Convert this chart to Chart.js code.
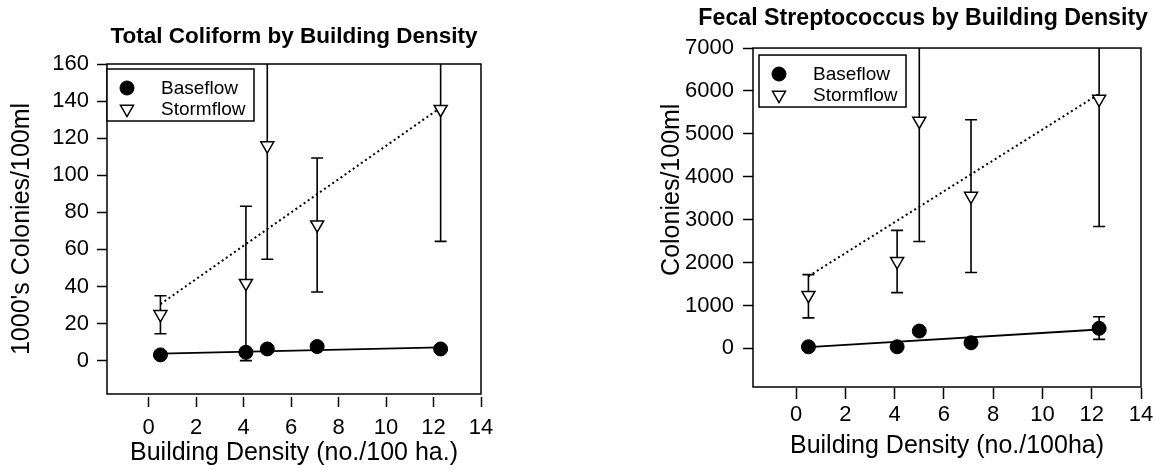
<!DOCTYPE html>
<html>
<head>
<meta charset="utf-8">
<script src="https://cdn.jsdelivr.net/npm/chart.js"></script>
<style>
  html, body { margin: 0; padding: 0; background: #fff; overflow: hidden; }
  body { width: 1155px; height: 470px; position: relative; }
  .panel { position: absolute; top: 0; height: 470px; }
  #left { left: 0; width: 560px; }
  #right { left: 600px; width: 565px; }
</style>
</head>
<body>
<div class="panel" id="left"><canvas id="tcChart"></canvas></div>
<div class="panel" id="right"><canvas id="fsChart"></canvas></div>
<script>
// x positions shared by both panels (buildings per 100 ha)
const density = [0.5, 4.1, 5.0, 7.1, 12.3];
const fitX = [0.5, 12.3];
const xTicks = [0, 2, 4, 6, 8, 10, 12, 14];

// Total coliform (1000's colonies/100ml)
const tcBase = [3.1, 4.5, 6.3, 7.6, 6.3];
const tcStorm = [25.0, 41.8, 116, 73.3, 135.6];
const tcStormLow = [14.5, 0, 54.7, 37, 64.3];
const tcStormHigh = [35, 83.3, 175, 109.3, 190];
const tcBaseFit = [3.8, 7.2];
const tcStormFit = [30.5, 136.5];
const tcYTicks = [0, 20, 40, 60, 80, 100, 120, 140, 160];

// Fecal streptococcus (colonies/100ml)
const fsBase = [37, 37, 404, 131, 467];
const fsBaseLow = [null, null, null, null, 210];
const fsBaseHigh = [null, null, null, null, 737];
const fsStorm = [1240, 2030, 5300, 3550, 5810];
const fsStormLow = [710, 1300, 2490, 1770, 2840];
const fsStormHigh = [1720, 2750, 8000, 5330, 8000];
const fsBaseFit = [30, 440];
const fsStormFit = [1680, 5930];
const fsYTicks = [0, 1000, 2000, 3000, 4000, 5000, 6000, 7000];

const FONT = '"Liberation Sans", Arial, Helvetica, sans-serif';

function pts(xs, ys) {
  return xs.map((x, i) => ({x: x, y: ys[i]}));
}

// vertical error bars, drawn under the markers and clipped to the plot box
const errorBars = {
  id: 'errorBars',
  beforeDatasetsDraw(chart) {
    const {ctx, chartArea: a, scales: {x, y}} = chart;
    ctx.save();
    ctx.beginPath();
    ctx.rect(a.left, a.top, a.right - a.left, a.bottom - a.top);
    ctx.clip();
    ctx.strokeStyle = '#000';
    ctx.lineWidth = 1.6;
    chart.data.datasets.forEach(ds => {
      if (!ds.errLow) return;
      ds.data.forEach((p, i) => {
        if (ds.errLow[i] == null) return;
        const px = x.getPixelForValue(p.x);
        const lo = y.getPixelForValue(ds.errLow[i]);
        const hi = y.getPixelForValue(ds.errHigh[i]);
        ctx.beginPath();
        ctx.moveTo(px, lo); ctx.lineTo(px, hi);
        ctx.moveTo(px - 6, lo); ctx.lineTo(px + 6, lo);
        ctx.moveTo(px - 6, hi); ctx.lineTo(px + 6, hi);
        ctx.stroke();
      });
    });
    ctx.restore();
  }
};

// box round the plot and the boxed key in its top left corner
const frameAndKey = {
  id: 'frameAndKey',
  afterDraw(chart, args, opts) {
    const {ctx, chartArea: a} = chart;
    ctx.save();
    ctx.strokeStyle = '#000';
    ctx.lineWidth = 1.5;
    ctx.strokeRect(a.left, a.top, a.right - a.left, a.bottom - a.top);

    const bx = a.left + opts.dx, by = a.top + opts.dy;
    ctx.fillStyle = '#fff';
    ctx.fillRect(bx, by, 147, 52);
    ctx.strokeRect(bx, by, 147, 52);
    ctx.font = '19px ' + FONT;
    ctx.textBaseline = 'middle';
    ctx.textAlign = 'left';
    chart.data.datasets.filter(ds => ds.inKey).forEach((ds, i) => {
      const cy = by + 19 + i * 21;
      ctx.fillStyle = ds.backgroundColor;
      ctx.strokeStyle = '#000';
      ctx.lineWidth = ds.borderWidth;
      Chart.helpers.drawPoint(ctx, {
        pointStyle: ds.pointStyle, radius: ds.pointRadius,
        rotation: ds.rotation || 0, borderWidth: ds.borderWidth
      }, bx + 20, cy);
      ctx.fillStyle = '#000';
      ctx.fillText(ds.label, bx + 54, cy + 1);
    });
    ctx.restore();
  }
};

function makeChart(id, d, L) {
  const tickFont = {family: FONT, size: 22};
  const axisFont = {family: FONT, size: 25};
  return new Chart(document.getElementById(id), {
    type: 'scatter',
    data: {
      datasets: [
        {label: 'Baseflow', inKey: true, data: pts(density, d.base),
         errLow: d.baseLow, errHigh: d.baseHigh,
         pointStyle: 'circle', pointRadius: 7, backgroundColor: '#000',
         borderColor: '#000', borderWidth: 1, order: 0},
        {label: 'Stormflow', inKey: true, data: pts(density, d.storm),
         errLow: d.stormLow, errHigh: d.stormHigh,
         pointStyle: 'triangle', rotation: 180, pointRadius: 7.5,
         backgroundColor: '#fff', borderColor: '#000', borderWidth: 1.5, order: 0},
        {label: 'Baseflow fit', data: pts(fitX, d.baseFit), showLine: true,
         pointRadius: 0, borderColor: '#000', borderWidth: 1.8, order: 1},
        {label: 'Stormflow fit', data: pts(fitX, d.stormFit), showLine: true,
         pointRadius: 0, borderColor: '#000', borderWidth: 2,
         borderDash: [2, 3], order: 1}
      ]
    },
    options: {
      responsive: true,
      maintainAspectRatio: false,
      animation: false,
      events: [],
      layout: {padding: {left: 0, top: 0, bottom: 0, right: L.padRight}},
      scales: {
        x: {
          type: 'linear', min: -1.75, max: 14,
          afterBuildTicks: s => { s.ticks = xTicks.map(v => ({value: v})); },
          afterFit: s => { s.height = L.xAxisH; },
          border: {display: false},
          grid: {display: true, drawOnChartArea: false, drawTicks: true,
                 tickLength: L.xTickLen, tickBorderDash: L.xTickDash,
                 tickColor: '#000', tickWidth: 1.5},
          ticks: {color: '#000', font: tickFont, padding: L.xLabelPad,
                  maxRotation: 0, autoSkip: false},
          title: {display: true, text: d.xTitle, color: '#000', font: axisFont,
                  padding: {top: 0, bottom: L.xTitlePad}}
        },
        y: {
          type: 'linear', min: d.yMin, max: d.yMax,
          afterBuildTicks: s => { s.ticks = d.yTicks.map(v => ({value: v})); },
          afterFit: s => { s.width = L.yAxisW; },
          border: {display: false},
          grid: {display: true, drawOnChartArea: false, drawTicks: true,
                 tickLength: 10, tickColor: '#000', tickWidth: 1.5},
          ticks: {color: '#000', font: tickFont, padding: L.yLabelPad,
                  callback: v => String(v)},
          title: {display: true, text: d.yTitle, color: '#000', font: axisFont,
                  padding: {top: L.yTitlePad, bottom: 0}}
        },
        yR: {
          type: 'linear', position: 'right', display: true,
          afterFit: s => { s.width = L.rightW; },
          border: {display: false}, grid: {display: false}, ticks: {display: false}
        }
      },
      plugins: {
        legend: {display: false},
        tooltip: {enabled: false},
        title: {display: true, text: d.title, color: '#000', align: L.titleAlign,
                fullSize: L.titleFull,
                font: {family: FONT, size: L.titleSize, weight: 'bold'},
                padding: {top: L.titleTop, bottom: L.titleBottom}},
        frameAndKey: {dx: L.keyDx, dy: L.keyDy}
      }
    },
    plugins: [errorBars, frameAndKey]
  });
}

makeChart('tcChart', {
  title: 'Total Coliform by Building Density',
  xTitle: 'Building Density (no./100 ha.)',
  yTitle: "1000's Colonies/100ml",
  yMin: -18, yMax: 160, yTicks: tcYTicks,
  base: tcBase, baseLow: null, baseHigh: null,
  storm: tcStorm, stormLow: tcStormLow, stormHigh: tcStormHigh,
  baseFit: tcBaseFit, stormFit: tcStormFit
}, {
  padRight: 79, rightW: 0, yAxisW: 107, xAxisH: 76,
  xTickLen: 13, xTickDash: [0, 3, 10, 40], xLabelPad: 8, xTitlePad: 2,
  yLabelPad: 8, yTitlePad: 7.5,
  titleAlign: 'center', titleFull: false, titleSize: 22.5, titleTop: 23.5, titleBottom: 13.5,
  keyDx: 0, keyDy: 5
});

makeChart('fsChart', {
  title: 'Fecal Streptococcus by Building Density',
  xTitle: 'Building Density (no./100ha)',
  yTitle: '        Colonies/100ml',
  yMin: -900, yMax: 7000, yTicks: fsYTicks,
  base: fsBase, baseLow: fsBaseLow, baseHigh: fsBaseHigh,
  storm: fsStorm, stormLow: fsStormLow, stormHigh: fsStormHigh,
  baseFit: fsBaseFit, stormFit: fsStormFit
}, {
  padRight: 17, rightW: 7, yAxisW: 153, xAxisH: 83,
  xTickLen: 12, xTickDash: [0, 1, 11, 40], xLabelPad: 3, xTitlePad: 9,
  yLabelPad: 9, yTitlePad: 57.5,
  titleAlign: 'end', titleFull: true, titleSize: 23.2, titleTop: 5, titleBottom: 15.2,
  keyDx: 6, keyDy: 7
});
</script>
</body>
</html>
